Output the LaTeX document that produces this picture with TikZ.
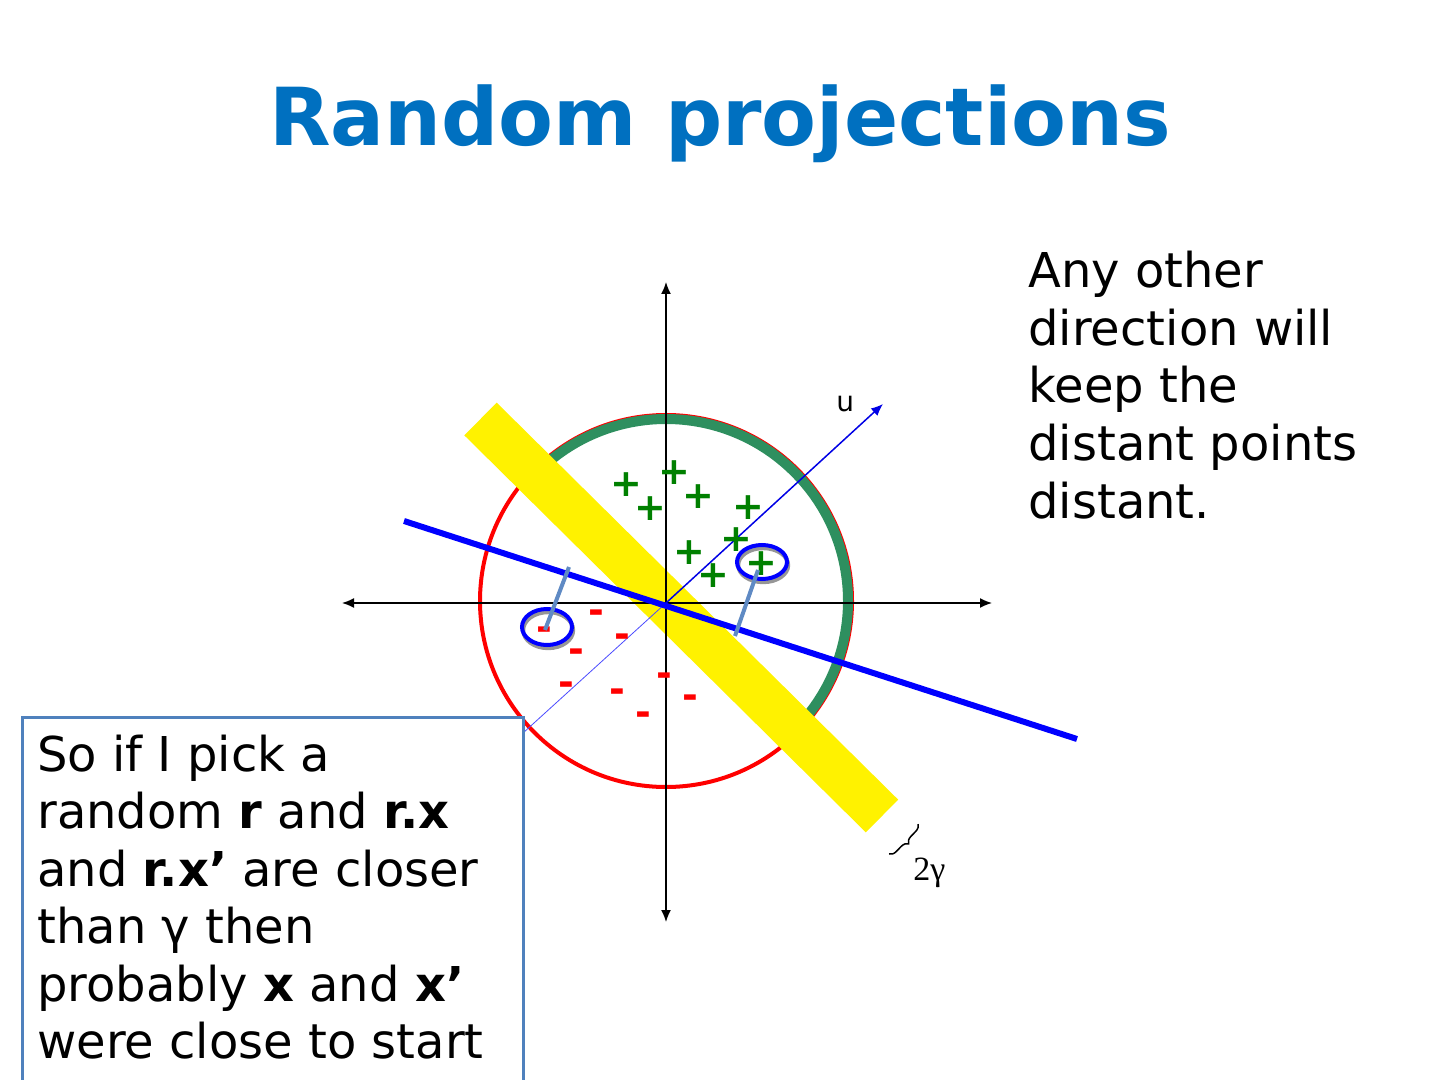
\documentclass[tikz,border=0pt]{standalone}
\usepackage{fontspec}
\setmainfont{DejaVu Sans}
\newfontfamily\serifgamma{Liberation Serif}
\usetikzlibrary{arrows.meta,decorations.pathreplacing}
\definecolor{titleblue}{RGB}{0,112,192}
\definecolor{plusgreen}{RGB}{0,128,0}
\definecolor{arcgreen}{RGB}{46,143,95}
\definecolor{boxblue}{RGB}{79,129,189}
\definecolor{projblue}{RGB}{95,138,196}
\definecolor{shadowgray}{RGB}{150,150,150}
\begin{document}
\begin{tikzpicture}[x=0.5pt,y=-0.5pt,
  txt/.style={anchor=base west,inner sep=0pt,font=\fontsize{24pt}{28.75pt}\selectfont},
  plusmark/.style={inner sep=0pt,text=plusgreen,font=\fontsize{19pt}{19pt}\selectfont\bfseries},
  minusmark/.style={inner sep=0pt,text=red,yshift=-2.2pt,font=\fontsize{19pt}{19pt}\selectfont\bfseries},
  axis/.style={line width=0.75pt,black,{Latex[length=6pt,width=5pt]}-{Latex[length=6pt,width=5pt]}},
  ring/.style={line width=2pt,blue},
  ringshadow/.style={line width=2pt,shadowgray},
  projline/.style={line width=2pt,projblue}]
\useasboundingbox (0,0) rectangle (1440,1080);
% coordinates
\coordinate (O) at (666,603);
\coordinate (C) at (666,601);
\coordinate (axL) at (342,603);
\coordinate (axR) at (992,603);
\coordinate (axT) at (666,282);
\coordinate (axB) at (666,922);
\coordinate (bandA) at (480.5,419);
\coordinate (bandB) at (882,816);
\coordinate (uTip) at (883,404);
\coordinate (uTail) at (523,733);
\coordinate (lineA) at (404,521);
\coordinate (lineB) at (1077,739);
% circle and arc
\draw[red,line width=2pt] (C) circle[radius=93pt];
\draw[arcgreen,line width=5pt] ([shift={(-45:91pt)}]C) arc[start angle=-45,end angle=135,radius=91pt];
% yellow band
\draw[yellow,line width=23pt] (bandA) -- (bandB);
% axes
\draw[axis] (axL) -- (axR);
\draw[axis] (axT) -- (axB);
% u direction
\draw[blue!70!white,line width=0.4pt] (uTail) -- (O);
\draw[blue!90!black,line width=0.75pt,-{Latex[length=6pt,width=5pt]}] (O) -- (uTip);
\node[anchor=base west,inner sep=0pt,font=\fontsize{14pt}{16pt}\selectfont] (ulabel) at (836,412) {u};
% thick blue line
\draw[blue,line width=3pt] (lineA) -- (lineB);
% plus marks
\node[plusmark] (p1) at (626.7,485) {+};
\node[plusmark] (p2) at (674.3,472.7) {+};
\node[plusmark] (p3) at (650.7,509) {+};
\node[plusmark] (p4) at (698.3,496.7) {+};
\node[plusmark] (p5) at (748.3,507.3) {+};
\node[plusmark] (p6) at (736.7,540) {+};
\node[plusmark] (p7) at (689.3,552.3) {+};
\node[plusmark] (p8) at (713.3,576) {+};
\node[plusmark] (p9) at (761,563.3) {+};
% minus marks
\node[minusmark] (m1) at (596.7,612.7) {-};
\node[minusmark] (m2) at (622.7,636) {-};
\node[minusmark] (m3) at (576,651.7) {-};
\node[minusmark] (m4) at (544.3,629.3) {-};
\node[minusmark] (m5) at (566.7,684.3) {-};
\node[minusmark] (m6) at (617.3,691.7) {-};
\node[minusmark] (m7) at (664.3,675.7) {-};
\node[minusmark] (m8) at (690,697.3) {-};
\node[minusmark] (m9) at (643,714) {-};
% rings with shadows
\coordinate (ringL) at (547,627);
\coordinate (ringR) at (762,562);
\draw[ringshadow] ([shift={(0.6pt,-1.6pt)}]ringL) ellipse[x radius=12.5pt,y radius=9pt];
\draw[ring] (ringL) ellipse[x radius=12.5pt,y radius=9pt];
\draw[ringshadow] ([shift={(0.6pt,-1.6pt)}]ringR) ellipse[x radius=12.5pt,y radius=8.5pt];
\draw[ring] (ringR) ellipse[x radius=12.5pt,y radius=8.5pt];
% projection lines
\coordinate (prLa) at (545,630);
\coordinate (prLb) at (569,567);
\coordinate (prRa) at (758,570);
\coordinate (prRb) at (735,636);
\draw[projline] (prLa) -- (prLb);
\draw[projline] (prRa) -- (prRb);
% brace and 2gamma
\coordinate (brA) at (918,824);
\coordinate (brB) at (889,854);
\draw[line width=0.75pt,decorate,decoration={brace,amplitude=3.5pt}] (brA) -- (brB);
\node[anchor=base west,inner sep=0pt,font=\serifgamma\fontsize{17pt}{20pt}\selectfont] (gam) at (913,880) {2γ};
% title
\node[anchor=base,inner sep=0pt,text=titleblue,font=\fontsize{40pt}{48pt}\selectfont\bfseries] (title) at (720,146) {Random projections};
% right text
\node[txt] (r1) at (1028,288) {Any other};
\node[txt] (r2) at (1028,345.5) {direction will};
\node[txt] (r3) at (1028,403) {keep the};
\node[txt] (r4) at (1028,460.5) {distant points};
\node[txt] (r5) at (1028,518) {distant.};
% box
\draw[boxblue,line width=1.5pt,fill=white] (22,1090) -- (22,717) -- (523,717) -- (523,1090);
\node[txt] (b1) at (37,771) {So if I pick a};
\node[txt] (b2) at (37,828.5) {random \textbf{r} and \textbf{r.x}};
\node[txt] (b3) at (37,886) {and \textbf{r.x’} are closer};
\node[txt] (b4) at (37,943.5) {than γ then};
\node[txt] (b5) at (37,1001) {probably \textbf{x} and \textbf{x’}};
\node[txt] (b6) at (37,1058.5) {were close to start};
\end{tikzpicture}
\end{document}
